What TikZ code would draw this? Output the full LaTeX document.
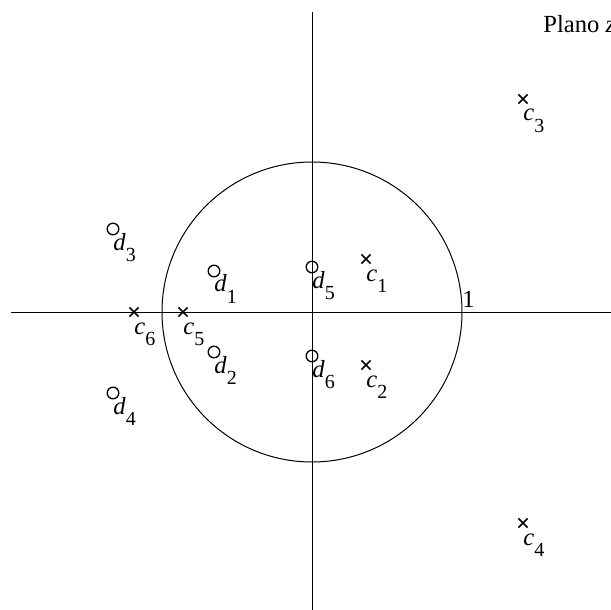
\documentclass[tikz,border=0pt]{standalone}
\usepackage{fontspec}
\setmainfont{Liberation Serif}
\usetikzlibrary{calc,shapes.misc}
\newcommand{\sub}[2]{\textit{#1}\raisebox{-5.8pt}{\fontsize{10}{11}\selectfont #2}}
\tikzset{
  polo/.style={cross out,draw=black,line width=.8pt,minimum size=3.8pt,inner sep=0pt},
  cero/.style={circle,draw=black,line width=.65pt,minimum size=5.8pt,inner sep=0pt},
  rotulo/.style={anchor=base west,inner sep=0pt},
  eje/.style={draw=black,line width=.5pt},
}
\begin{document}
\begin{tikzpicture}[x=0.5pt,y=-0.5pt,font=\fontsize{12.3}{14}\selectfont]
  \useasboundingbox (0,0) rectangle (611,610);
  % ejes y circulo unidad
  \coordinate (o) at (312,312);
  \draw[eje] (11,312) -- (611,312);
  \draw[eje] (312,12) -- (312,610);
  \draw[eje] (o) circle[radius=150];
  \node[rotulo] (uno) at (462,307) {1};
  \node[rotulo] (plano) at (543,33) {Plano \textit{z}};
  % polos
  \foreach \n/\x/\y in {1/366/259,2/366/365,3/523/99,4/523/523,5/183/312,6/134/312}
    {\node[polo] (c\n) at (\x,\y) {};
     \node[rotulo] (lc\n) at ($(c\n)+(0,22)$) {\sub{c}{\n}};}
  % ceros
  \foreach \n/\x/\y in {1/214/271,2/214/352,3/113/229,4/113/393,5/312/267,6/312/356}
    {\node[cero] (d\n) at (\x,\y) {};
     \node[rotulo] (ld\n) at ($(d\n)+(0,21)$) {\sub{d}{\n}};}
\end{tikzpicture}
\end{document}
